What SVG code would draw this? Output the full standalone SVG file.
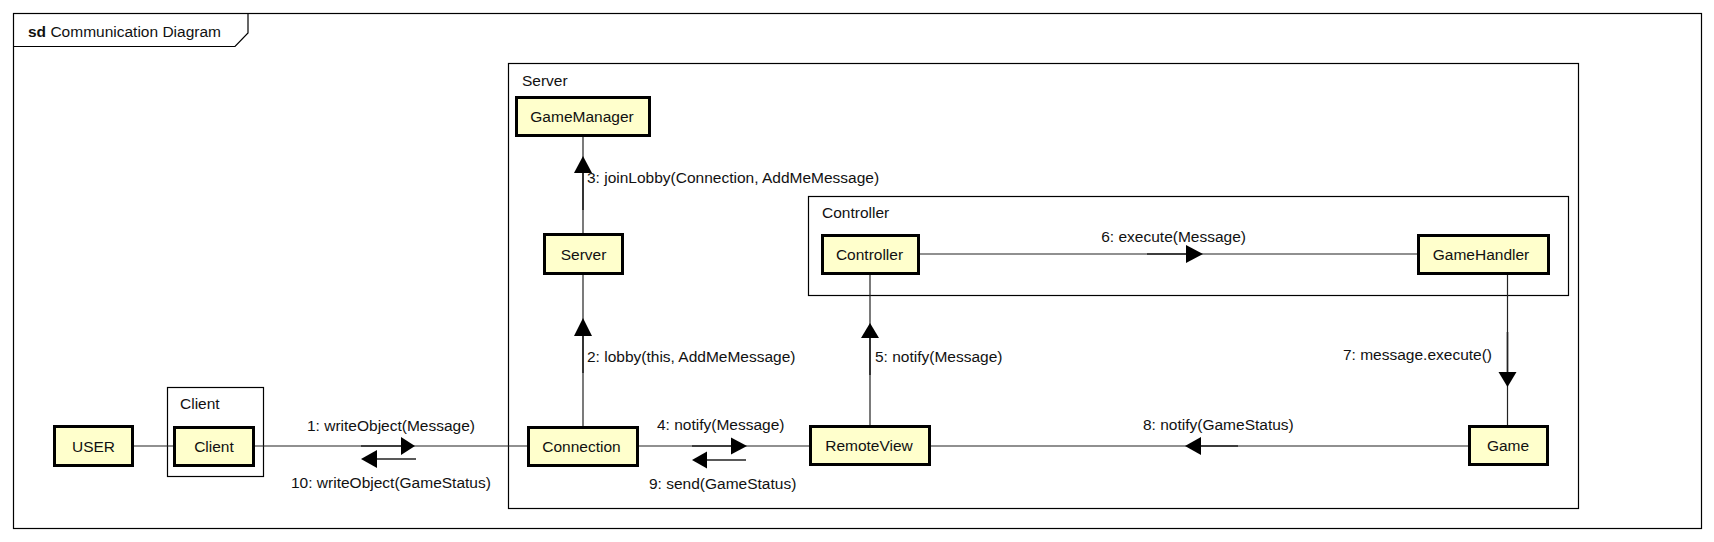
<svg xmlns="http://www.w3.org/2000/svg" width="1714" height="542" viewBox="0 0 1714 542">
<defs>
<style>
text{font-family:"Liberation Sans",Arial,sans-serif;font-size:15.5px;fill:#111}
.box rect{fill:#FFFFCC;stroke:#000;stroke-width:3}
.box text{text-anchor:middle}
.frame{fill:none;stroke:#000;stroke-width:1.2}
.link{stroke:#222;stroke-width:1.2;fill:none}
.seg{stroke:#222;stroke-width:1.6;fill:none}
.head{fill:#000;stroke:none}
</style>
</defs>
<rect x="0" y="0" width="1714" height="542" fill="#fff"/>
<g id="frame-sd">
<rect class="frame" x="13.5" y="13.5" width="1688" height="515"/>
<path class="frame" d="M13.5 46.5 H235 L248 33 V13.5"/>
<text x="28" y="37"><tspan font-weight="bold">sd</tspan> Communication Diagram</text>
</g>
<g id="frame-server">
<rect class="frame" x="508.5" y="63.5" width="1070" height="445"/>
<text x="522" y="86">Server</text>
</g>
<g id="frame-controller">
<rect class="frame" x="808.5" y="196.5" width="760" height="99"/>
<text x="822" y="218">Controller</text>
</g>
<g id="frame-client">
<rect class="frame" x="167.5" y="387.5" width="96" height="89"/>
<text x="180" y="409">Client</text>
</g>
<g id="connectors">
<line class="link" x1="134" y1="446" x2="173" y2="446"/>
<line class="link" x1="255" y1="446" x2="528" y2="446"/>
<line class="link" x1="639" y1="446" x2="809" y2="446"/>
<line class="link" x1="931" y1="446" x2="1468" y2="446"/>
<line class="link" x1="920" y1="254" x2="1417" y2="254"/>
<line class="link" x1="583" y1="137" x2="583" y2="233"/>
<line class="link" x1="583" y1="275" x2="583" y2="426"/>
<line class="link" x1="870" y1="275" x2="870" y2="425"/>
<line class="link" x1="1507.5" y1="275" x2="1507.5" y2="425"/>
<!-- 1 -->
<line class="seg" x1="361" y1="446" x2="402" y2="446"/>
<polygon class="head" points="415,446 401,437 401,455"/>
<text x="307" y="431">1: writeObject(Message)</text>
<!-- 10 -->
<line class="seg" x1="376" y1="459" x2="416" y2="459"/>
<polygon class="head" points="361,459 377,450 377,468"/>
<text x="291" y="488">10: writeObject(GameStatus)</text>
<!-- 2 -->
<line class="seg" x1="583" y1="335" x2="583" y2="373"/>
<polygon class="head" points="583,318 574,336 592,336"/>
<text x="587" y="362">2: lobby(this, AddMeMessage)</text>
<!-- 3 -->
<line class="seg" x1="583" y1="172" x2="583" y2="210"/>
<polygon class="head" points="583,156 574,173 592,173"/>
<text x="587" y="183">3: joinLobby(Connection, AddMeMessage)</text>
<!-- 4 -->
<line class="seg" x1="692" y1="446" x2="732" y2="446"/>
<polygon class="head" points="747,446 731,437.5 731,454.5"/>
<text x="657" y="430">4: notify(Message)</text>
<!-- 9 -->
<line class="seg" x1="706" y1="460" x2="746" y2="460"/>
<polygon class="head" points="692,460 707,451.5 707,468.5"/>
<text x="649" y="489">9: send(GameStatus)</text>
<!-- 5 -->
<line class="seg" x1="870" y1="337" x2="870" y2="375"/>
<polygon class="head" points="870,323 861,338 879,338"/>
<text x="875" y="362">5: notify(Message)</text>
<!-- 6 -->
<line class="seg" x1="1147" y1="254" x2="1187" y2="254"/>
<polygon class="head" points="1203,254 1186,245 1186,263"/>
<text x="1246" y="242" text-anchor="end">6: execute(Message)</text>
<!-- 7 -->
<line class="seg" x1="1507.5" y1="332" x2="1507.5" y2="373"/>
<polygon class="head" points="1507.5,387 1498.5,372 1516.5,372"/>
<text x="1492" y="360" text-anchor="end">7: message.execute()</text>
<!-- 8 -->
<line class="seg" x1="1200" y1="446" x2="1238" y2="446"/>
<polygon class="head" points="1185,446 1201,437 1201,455"/>
<text x="1143" y="430">8: notify(GameStatus)</text>
</g>
<g id="node-user" class="box">
<rect x="54.5" y="426.5" width="78" height="39"/>
<text x="93.5" y="451.5">USER</text>
</g>
<g id="node-client" class="box">
<rect x="174.5" y="427.5" width="79" height="38"/>
<text x="214" y="451.5">Client</text>
</g>
<g id="node-connection" class="box">
<rect x="528.5" y="427.5" width="109" height="38"/>
<text x="581.5" y="451.5">Connection</text>
</g>
<g id="node-remoteview" class="box">
<rect x="810.5" y="426.5" width="119" height="38"/>
<text x="869" y="451">RemoteView</text>
</g>
<g id="node-game" class="box">
<rect x="1469.5" y="426.5" width="78" height="38"/>
<text x="1508" y="451">Game</text>
</g>
<g id="node-server" class="box">
<rect x="544.5" y="234.5" width="78" height="39"/>
<text x="583.5" y="259.5">Server</text>
</g>
<g id="node-controller" class="box">
<rect x="822.5" y="235.5" width="96" height="38"/>
<text x="869.5" y="259.5">Controller</text>
</g>
<g id="node-gamehandler" class="box">
<rect x="1418.5" y="235.5" width="130" height="38"/>
<text x="1481" y="259.5">GameHandler</text>
</g>
<g id="node-gamemanager" class="box">
<rect x="516.5" y="97.5" width="133" height="38"/>
<text x="582" y="122">GameManager</text>
</g>
</svg>
